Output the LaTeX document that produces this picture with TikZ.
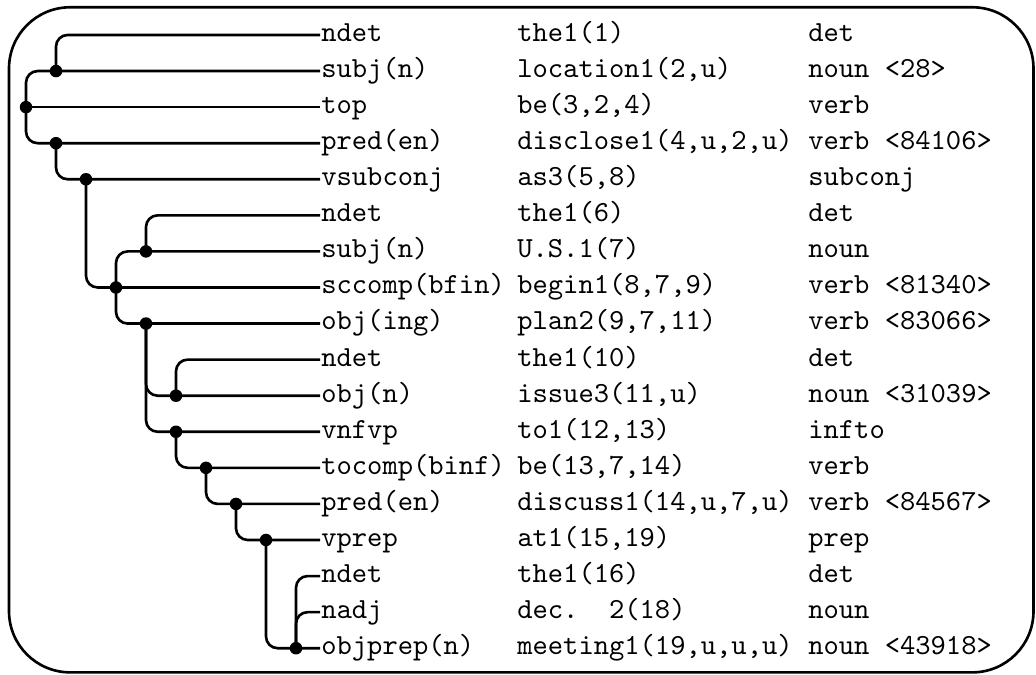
\documentclass[tikz,border=0pt]{standalone}
\usepackage[OT1,TU]{fontenc}
\usepackage{tikz}
\newcommand{\cmtt}{\fontencoding{OT1}\fontfamily{cmtt}\selectfont}

\begin{document}
\begin{tikzpicture}[x=0.3432pt, y=-12.38pt, line width=0.9pt,
    word/.style={anchor=west, inner sep=0pt, font=\cmtt, text height=4.4pt, text depth=0pt},
    head/.style={circle, fill, inner sep=0pt, minimum size=4.3pt},
    link/.style={rounded corners=4pt}]
    \useasboundingbox (0,0.03) rectangle (1036,18.74);
    \draw [rounded corners=21pt] (9,0.232) rectangle (1033.5,18.67);

    % relation / word / category
    \node [word] (l1)  at (320,1)  {ndet};
    \node [word] (w1)  at (516,1)  {the1(1)};
    \node [word] (c1)  at (807,1)  {det};
    \node [word] (l2)  at (320,2)  {subj(n)};
    \node [word] (w2)  at (516,2)  {location1(2,u)};
    \node [word] (c2)  at (807,2)  {noun <28>};
    \node [word] (l3)  at (320,3)  {top};
    \node [word] (w3)  at (516,3)  {be(3,2,4)};
    \node [word] (c3)  at (807,3)  {verb};
    \node [word] (l4)  at (320,4)  {pred(en)};
    \node [word] (w4)  at (516,4)  {disclose1(4,u,2,u)};
    \node [word] (c4)  at (807,4)  {verb <84106>};
    \node [word] (l5)  at (320,5)  {vsubconj};
    \node [word] (w5)  at (516,5)  {as3(5,8)};
    \node [word] (c5)  at (807,5)  {subconj};
    \node [word] (l6)  at (320,6)  {ndet};
    \node [word] (w6)  at (516,6)  {the1(6)};
    \node [word] (c6)  at (807,6)  {det};
    \node [word] (l7)  at (320,7)  {subj(n)};
    \node [word] (w7)  at (516,7)  {U.S.1(7)};
    \node [word] (c7)  at (807,7)  {noun};
    \node [word] (l8)  at (320,8)  {sccomp(bfin)};
    \node [word] (w8)  at (516,8)  {begin1(8,7,9)};
    \node [word] (c8)  at (807,8)  {verb <81340>};
    \node [word] (l9)  at (320,9)  {obj(ing)};
    \node [word] (w9)  at (516,9)  {plan2(9,7,11)};
    \node [word] (c9)  at (807,9)  {verb <83066>};
    \node [word] (l10) at (320,10) {ndet};
    \node [word] (w10) at (516,10) {the1(10)};
    \node [word] (c10) at (807,10) {det};
    \node [word] (l11) at (320,11) {obj(n)};
    \node [word] (w11) at (516,11) {issue3(11,u)};
    \node [word] (c11) at (807,11) {noun <31039>};
    \node [word] (l12) at (320,12) {vnfvp};
    \node [word] (w12) at (516,12) {to1(12,13)};
    \node [word] (c12) at (807,12) {infto};
    \node [word] (l13) at (320,13) {tocomp(binf)};
    \node [word] (w13) at (516,13) {be(13,7,14)};
    \node [word] (c13) at (807,13) {verb};
    \node [word] (l14) at (320,14) {pred(en)};
    \node [word] (w14) at (516,14) {discuss1(14,u,7,u)};
    \node [word] (c14) at (807,14) {verb <84567>};
    \node [word] (l15) at (320,15) {vprep};
    \node [word] (w15) at (516,15) {at1(15,19)};
    \node [word] (c15) at (807,15) {prep};
    \node [word] (l16) at (320,16) {ndet};
    \node [word] (w16) at (516,16) {the1(16)};
    \node [word] (c16) at (807,16) {det};
    \node [word] (l17) at (320,17) {nadj};
    \node [word] (w17) at (516,17) {dec.~~2(18)};
    \node [word] (c17) at (807,17) {noun};
    \node [word] (l18) at (320,18) {objprep(n)};
    \node [word] (w18) at (516,18) {meeting1(19,u,u,u)};
    \node [word] (c18) at (807,18) {noun <43918>};

    % heads
    \node [head] (d2)  at (56,2)   {};
    \node [head] (d3)  at (26,3)   {};
    \node [head] (d4)  at (56,4)   {};
    \node [head] (d5)  at (86,5)   {};
    \node [head] (d7)  at (146,7)  {};
    \node [head] (d8)  at (116,8)  {};
    \node [head] (d9)  at (146,9)  {};
    \node [head] (d11) at (176,11) {};
    \node [head] (d12) at (176,12) {};
    \node [head] (d13) at (206,13) {};
    \node [head] (d14) at (236,14) {};
    \node [head] (d15) at (266,15) {};
    \node [head] (d18) at (296,18) {};

    % dependencies
    \draw [link] (d3.center) -- (l3.west);
    \draw [link] (d3.center) |- (l2.west);
    \draw [link] (d3.center) |- (l4.west);
    \draw [link] (d2.center) |- (l1.west);
    \draw [link] (d4.center) |- (l5.west);
    \draw [link] (d5.center) |- (l8.west);
    \draw [link] (d8.center) |- (l7.west);
    \draw [link] (d8.center) |- (l9.west);
    \draw [link] (d7.center) |- (l6.west);
    \draw [link] (d9.center) |- (l11.west);
    \draw [link] (d9.center) |- (l12.west);
    \draw [link] (d11.center) |- (l10.west);
    \draw [link] (d12.center) |- (l13.west);
    \draw [link] (d13.center) |- (l14.west);
    \draw [link] (d14.center) |- (l15.west);
    \draw [link] (d15.center) |- (l18.west);
    \draw [link] (d18.center) |- (l16.west);
    \draw [link] (d18.center) |- (l17.west);
\end{tikzpicture}
\end{document}
